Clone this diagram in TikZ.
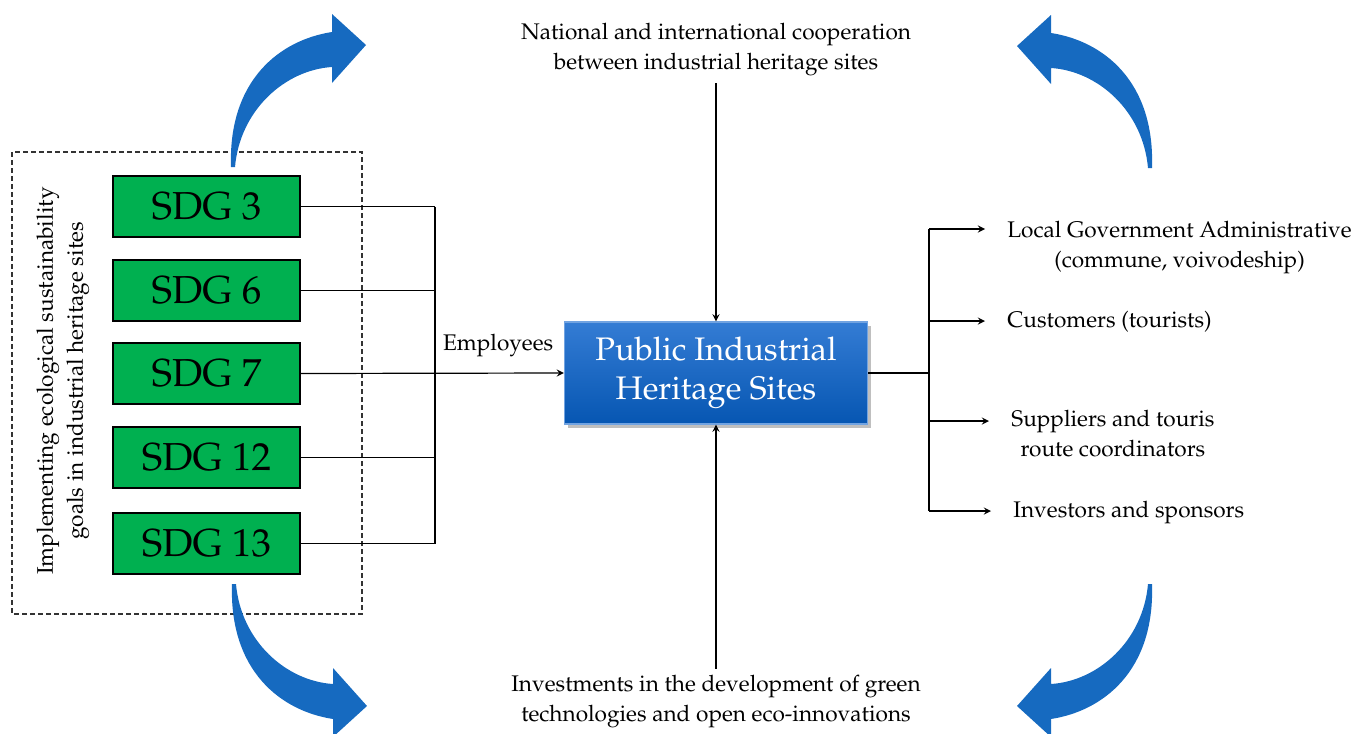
\documentclass[tikz,border=0pt]{standalone}
\usepackage[T1]{fontenc}
\usepackage{mathpazo}
\usetikzlibrary{shadows}

\definecolor{sdggreen}{RGB}{0,176,80}
\definecolor{curveblue}{RGB}{22,106,192}
\definecolor{hubtop}{RGB}{52,124,212}
\definecolor{hubbottom}{RGB}{6,86,178}

\tikzset{
  sdg/.style={draw=black, line width=1pt, fill=sdggreen, minimum width=93.5pt,
    minimum height=30.5pt, font=\fontsize{19.5}{22}\selectfont},
  hub/.style={draw=hubtop!70!white, line width=0.6pt, top color=hubtop,
    bottom color=hubbottom, text=white, align=center, minimum width=151.5pt,
    minimum height=51pt, font=\fontsize{16.3}{19.5}\selectfont,
    drop shadow={opacity=0.5, shadow xshift=1.5pt, shadow yshift=-2pt}},
  lbl/.style={align=center, font=\fontsize{11.3}{15}\selectfont},
  wire/.style={line width=0.6pt}
}

% bent block arrow, tail at the origin
\newcommand{\bentarrow}[1]{%
  \begin{scope}[#1]
    \fill[curveblue] (0,0) .. controls (-3,-87) and (49,-127) .. (101,-135)
      -- (101,-153) -- (135,-122) -- (101,-84) -- (101,-100)
      .. controls (54,-97) and (9,-57) .. (4,0) -- cycle;
  \end{scope}}

\begin{document}
\begin{tikzpicture}[x=0.5pt, y=-0.5pt]
    \useasboundingbox (0,0) rectangle (1372,734);

    % goals block
    \draw[wire, dash pattern=on 2.5pt off 1.5pt, black!80] (12,152) rectangle (362,614);
    \node[lbl, rotate=90] (goals) at (63,381)
      {Implementing ecological sustainability\\goals in industrial heritage sites};
    \node[sdg] (sdg3) at (206.5,206.5) {SDG 3};
    \node[sdg] (sdg6) at (206.5,290.5) {SDG 6};
    \node[sdg] (sdg7) at (206.5,373.5) {SDG 7};
    \node[sdg] (sdg12) at (206.5,457.5) {SDG 12};
    \node[sdg] (sdg13) at (206.5,543.5) {SDG 13};

    \node[hub] (phs) at (716,373) {Public Industrial\\Heritage Sites};

    \node[lbl] (coop) at (716,50)
      {National and international cooperation\\between industrial heritage sites};
    \node[lbl] (invest) at (716,702)
      {Investments in the development of green\\technologies and open eco-innovations};

    % stakeholders
    \node[lbl, anchor=west, inner xsep=11pt] (gov) at (985,248)
      {Local Government Administrative\\(commune, voivodeship)};
    \node[lbl, anchor=west, inner xsep=11pt] (cust) at (985,322) {Customers (tourists)};
    \node[lbl, anchor=west, inner xsep=11pt] (supp) at (989,434)
      {Suppliers and touris\\route coordinators};
    \node[lbl, anchor=west, inner xsep=11pt] (inv) at (991,513) {Investors and sponsors};

    \coordinate (bus) at (435,0);
    \coordinate (split) at (929,373);
    \coordinate (t1) at (929,229);
    \coordinate (t2) at (929,321);
    \coordinate (t3) at (929,421);
    \coordinate (t4) at (929,511);

    \path[wire]
    (sdg3.east) edge (sdg3.east -| bus)
    (sdg6.east) edge (sdg6.east -| bus)
    (sdg12.east) edge (sdg12.east -| bus)
    (sdg13.east) edge (sdg13.east -| bus)
    (sdg3.east -| bus) edge (sdg13.east -| bus)
    (phs.east) edge (split)
    (t1) edge (t4);
    \path[wire, -stealth]
    (sdg7.east) edge node[above, pos=0.75, yshift=4.5pt, lbl] {Employees} (phs.west)
    (coop.south) edge (phs.north)
    (invest.north) edge (phs.south)
    (t1) edge (t1 -| gov.west)
    (t2) edge (t2 -| cust.west)
    (t3) edge (t3 -| supp.west)
    (t4) edge (t4 -| inv.west);

    % the four bent arrows
    \bentarrow{shift={(231,167)}}
    \bentarrow{shift={(1152,168)}, xscale=-1}
    \bentarrow{shift={(232,584)}, yscale=-1}
    \bentarrow{shift={(1152,584)}, xscale=-1, yscale=-1}
\end{tikzpicture}
\end{document}
